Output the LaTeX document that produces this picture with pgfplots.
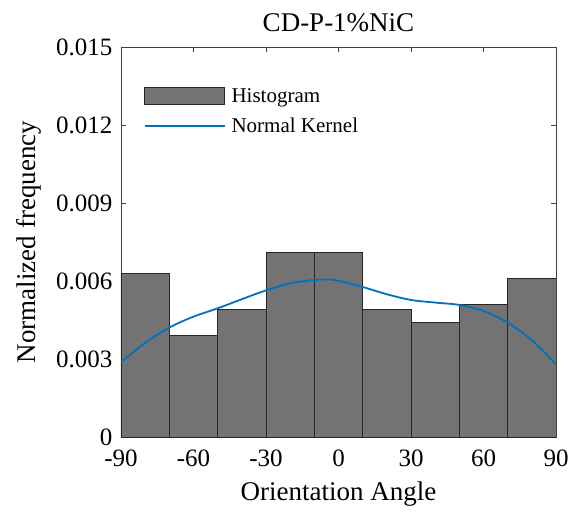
\documentclass[border=0pt]{standalone}
\usepackage{pgfplots}
\pgfplotsset{compat=1.18}
\usepackage{fontspec}
\setmainfont{Liberation Serif}
\definecolor{histgray}{RGB}{115,115,115}
\definecolor{mblue}{RGB}{0,114,189}
\begin{document}
\begin{tikzpicture}
\path[use as bounding box] (-121pt,-80pt) rectangle (450pt,437pt);
\begin{axis}[
  at={(0,0)}, anchor=south west, scale only axis,
  width=435pt, height=390pt,
  xmin=-90, xmax=90, ymin=0, ymax=0.015,
  xtick={-90,-60,-30,0,30,60,90},
  xticklabels={-90,-60,-30,0,30,60,90},
  ytick={0,0.003,0.006,0.009,0.012,0.015},
  yticklabels={0,0.003,0.006,0.009,0.012,0.015},
  scaled y ticks=false,
  tick align=inside, major tick length=5pt,
  tick style={black!75}, axis line style={black!75},
  ticklabel style={font=\fontsize{25}{27}\selectfont},
  xticklabel style={yshift=-9pt},
  yticklabel style={xshift=-5pt},
  xlabel={Orientation Angle}, ylabel={Normalized frequency},
  label style={font=\fontsize{27}{29}\selectfont},
  title={CD-P-1\%NiC},
  title style={font=\fontsize{27}{29}\selectfont, yshift=6pt},
  xlabel style={yshift=-8pt},
  ylabel style={yshift=8pt},
  legend style={at={(0.045,0.905)}, anchor=north west, draw=none, fill=none,
    font=\fontsize{21}{23}\selectfont, row sep=10pt,
    nodes={inner xsep=6pt}},
  legend cell align=left,
]
\addplot[ybar interval, fill=histgray, draw=black!85, line width=0.8pt,
  legend image code/.code={\draw[fill=histgray, draw=black!85, line width=0.8pt] (0pt,-8.5pt) rectangle (80pt,8.5pt);}]
  coordinates {(-90,0.0063) (-70,0.0039) (-50,0.0049) (-30,0.0071) (-10,0.0071)
               (10,0.0049) (30,0.0044) (50,0.0051) (70,0.0061) (90,0.0061)};
\addlegendentry{Histogram}
\addplot[mblue, line width=1.8pt, smooth,
  legend image code/.code={\draw[mblue, line width=1.8pt] (0pt,0pt) -- (80pt,0pt);}]
  coordinates {(-90,0.00288) (-80,0.00362) (-70,0.00421) (-60,0.00463) (-50,0.00495)
    (-40,0.00530) (-30,0.00564) (-20,0.00591) (-10,0.00604) (-5,0.00606) (0,0.00601)
    (10,0.00577) (20,0.00549) (30,0.00527) (40,0.00517) (50,0.00508)
    (60,0.00485) (70,0.00440) (80,0.00372) (90,0.00280)};
\addlegendentry{Normal Kernel}
\end{axis}
\end{tikzpicture}
\end{document}
